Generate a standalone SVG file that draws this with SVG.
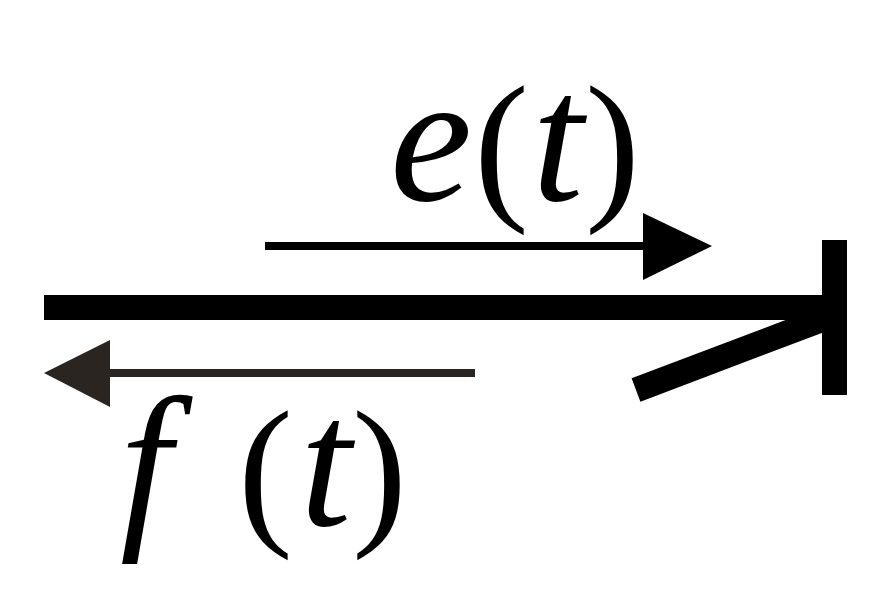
<svg xmlns="http://www.w3.org/2000/svg" width="887" height="616" viewBox="0 0 887 616">
<style>text{font-family:'Liberation Serif','DejaVu Serif',serif;fill:#000}.i{font-style:italic}</style>
<rect width="887" height="616" fill="#fff"/>
<g id="bond">
<rect x="44" y="295" width="790" height="25" fill="#000"/>
<rect x="822" y="240" width="25" height="155" fill="#000"/>
<line x1="826" y1="318" x2="636" y2="390" stroke="#000" stroke-width="25"/>
</g>
<g id="connectors">
<line x1="265" y1="246" x2="650" y2="246" stroke="#000" stroke-width="8"/>
<polygon points="643,213 712,246 643,280" fill="#000"/>
<line x1="475" y1="373" x2="105" y2="373" stroke="#2b2522" stroke-width="8"/>
<polygon points="110,340 44,373 110,407" fill="#2b2522"/>
</g>
<g id="label-e"><text y="200"><tspan x="390" class="i" font-size="185">e</tspan><tspan x="474" font-size="165">(</tspan><tspan x="532" class="i" font-size="185">t</tspan><tspan x="585" font-size="165">)</tspan></text></g>
<g id="label-f"><text y="525"><tspan x="120" class="i" font-size="185">f</tspan><tspan x="238" font-size="165">(</tspan><tspan x="300" class="i" font-size="185">t</tspan><tspan x="352" font-size="165">)</tspan></text></g>
</svg>
